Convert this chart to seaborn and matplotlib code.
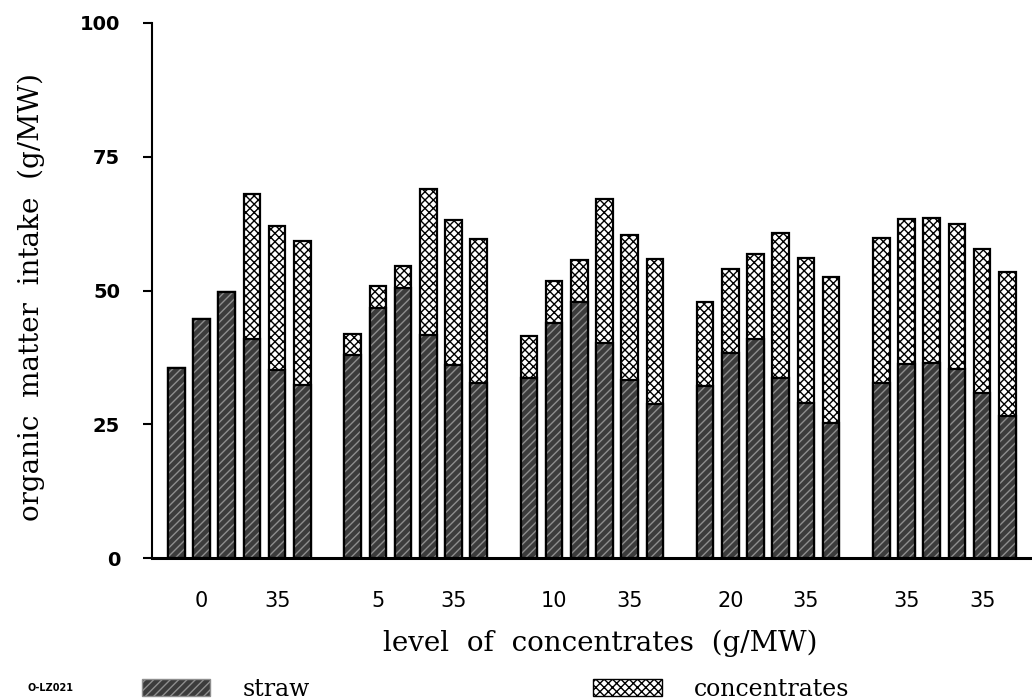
import numpy as np
import pandas as pd
import matplotlib
matplotlib.use("Agg")
import matplotlib.pyplot as plt
import seaborn as sns
from matplotlib.patches import Patch

# ---- data ----
groups = ["0", "5", "10", "20", "35"]          # low concentrate level of each group
bars_per_group = 6
straw = [35.5, 44.6, 49.7, 40.9, 35.1, 32.3,
         37.9, 46.7, 50.4, 41.7, 36.1, 32.7,
         33.6, 44.0, 47.9, 40.2, 33.3, 28.8,
         32.1, 38.4, 41.0, 33.6, 28.9, 25.3,
         32.8, 36.2, 36.4, 35.3, 30.8, 26.5]
concentrates = [0.0, 0.0, 0.0, 27.1, 27.0, 27.0,
                4.0, 4.1, 4.2, 27.2, 27.0, 27.0,
                7.9, 7.8, 7.8, 26.9, 27.1, 27.1,
                15.8, 15.7, 15.8, 27.2, 27.2, 27.3,
                27.0, 27.2, 27.2, 27.1, 27.0, 27.0]
tick_labels = ["0", "35", "5", "35", "10", "35", "20", "35", "35", "35"]
y_ticks = [0, 25, 50, 75, 100]

# ---- layout ----
slot = bars_per_group + 1
g_idx = np.repeat(np.arange(len(groups)), bars_per_group)
b_idx = np.tile(np.arange(bars_per_group), len(groups))
pos = g_idx * slot + b_idx
df = pd.DataFrame({"pos": pos, "straw": straw, "conc": concentrates})
df["total"] = df["straw"] + df["conc"]
tick_pos = [g * slot + k for g in range(len(groups)) for k in (1, 4)]

sns.set_theme(style="white")
plt.rcParams["font.family"] = ["DejaVu Sans"]
plt.rcParams["hatch.linewidth"] = 1.0
plt.rcParams["axes.edgecolor"] = "black"
plt.rcParams["text.color"] = "black"
plt.rcParams["xtick.color"] = "black"
plt.rcParams["ytick.color"] = "black"
plt.rcParams["axes.labelcolor"] = "black"

fig = plt.figure(figsize=(10.32, 7.0), dpi=100)
ax = fig.add_axes([152 / 1032, 142 / 700, 880 / 1032, 535 / 700])

straw_face = "#3c3c3c"
straw_hatch = "#8e8e8e"

# concentrates (full stacked height)
n0 = len(ax.patches)
sns.barplot(data=df, x="pos", y="total", native_scale=True, width=0.66,
            color="white", saturation=1, edgecolor="black", linewidth=1.6,
            errorbar=None, ax=ax)
for p in ax.patches[n0:]:
    p.set_hatch("xxxx")

# straw (bottom part)
n1 = len(ax.patches)
sns.barplot(data=df, x="pos", y="straw", native_scale=True, width=0.66,
            color=straw_face, saturation=1, edgecolor=straw_hatch, linewidth=0,
            errorbar=None, ax=ax)
for p in ax.patches[n1:]:
    p.set_hatch("////")

# straw outline
sns.barplot(data=df, x="pos", y="straw", native_scale=True, width=0.66,
            color="black", fill=False, linewidth=1.6, errorbar=None, ax=ax)

ax.set_xlim(-0.97, 33.98)
ax.set_ylim(0, 100)
ax.set_xticks(tick_pos)
ax.set_xticklabels(tick_labels, fontsize=15)
ax.tick_params(axis="x", length=0, pad=24)
ax.set_yticks(y_ticks)
ax.set_yticklabels([str(v) for v in y_ticks], fontsize=14, fontweight="bold")
ax.tick_params(axis="y", length=6.5, width=1.5, pad=16.5, direction="out", left=True)

for s in ("top", "right"):
    ax.spines[s].set_visible(False)
ax.spines["left"].set_linewidth(1.5)
ax.spines["bottom"].set_linewidth(2.2)

ax.set_xlabel("level  of  concentrates  (g/MW)", fontsize=20, family="DejaVu Serif")
ax.xaxis.set_label_coords(0.509, -0.133)
ax.set_ylabel("organic  matter  intake  (g/MW)", fontsize=20, family="DejaVu Serif")
ax.yaxis.set_label_coords(-0.1216, 0.488)

handles = [Patch(facecolor=straw_face, edgecolor=straw_hatch, hatch="////", linewidth=1),
           Patch(facecolor="white", edgecolor="black", hatch="xxxx", linewidth=1)]
fig.legend(handles, ["straw", "concentrates"], loc="center left",
           bbox_to_anchor=(142 / 1032, 11 / 700), ncol=2, frameon=False,
           prop={"family": "DejaVu Serif", "size": 17},
           handlelength=2.9, handleheight=0.76, handletextpad=1.36,
           columnspacing=12.0, borderpad=0, borderaxespad=0)

fig.text(27 / 1032, 12 / 700, "O-LZ021", fontsize=7, fontweight="bold", va="center")

fig.savefig("out.png", dpi=100)
